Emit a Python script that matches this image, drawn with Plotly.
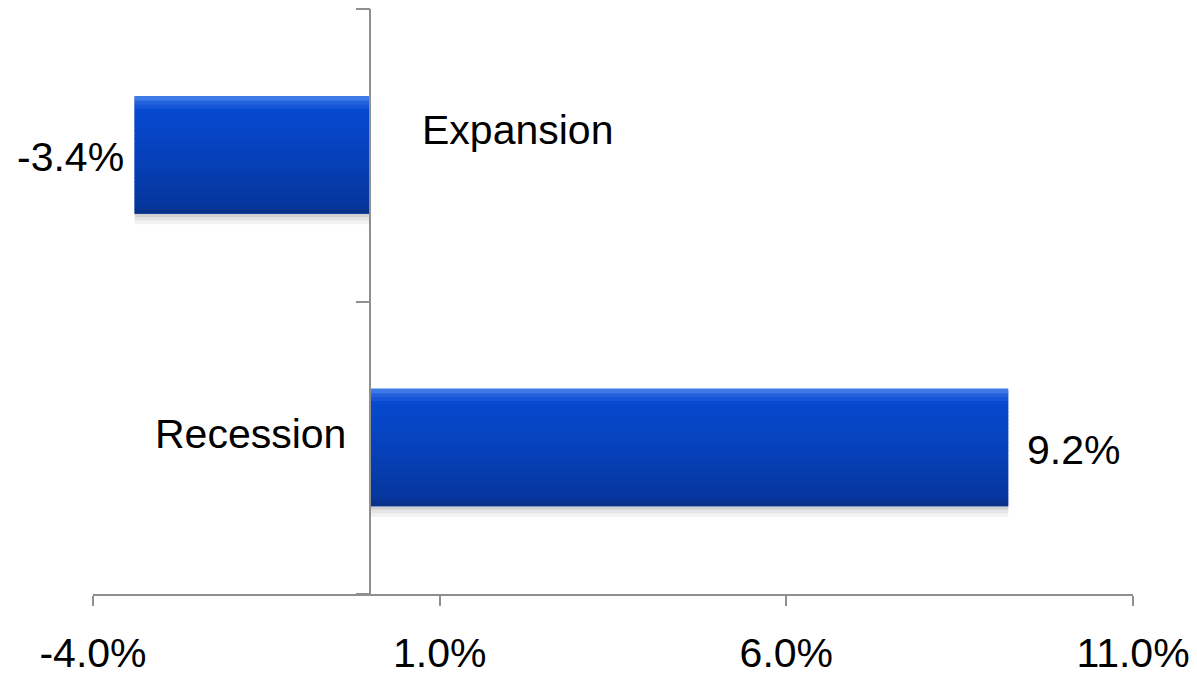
import plotly.graph_objects as go

# Data
categories = ["Expansion", "Recession"]
values = [-3.4, 9.2]
x_ticks = [-4.0, 1.0, 6.0, 11.0]

FONT = "Liberation Sans, Arial, sans-serif"
AXIS_GRAY = "#8f8f8f"

BAR_W = 0.4          # bar thickness in category units
N_STRIPES = 30       # vertical shading steps


def lerp_color(c1, c2, t):
    a = [int(c1[i:i + 2], 16) for i in (1, 3, 5)]
    b = [int(c2[i:i + 2], 16) for i in (1, 3, 5)]
    return "#" + "".join(f"{round(a[k] + (b[k] - a[k]) * t):02x}" for k in range(3))


def stripe_color(t):
    # t = 0 at bottom edge, 1 at top edge
    stops = [(0.0, "#0a2f80"), (0.06, "#06369c"), (0.45, "#0640b8"),
             (0.88, "#0649cf"), (0.95, "#2462dc"), (1.0, "#4a86ea")]
    for (t0, c0), (t1, c1) in zip(stops[:-1], stops[1:]):
        if t0 <= t <= t1:
            return lerp_color(c0, c1, (t - t0) / (t1 - t0))
    return stops[-1][1]


fig = go.Figure()

# soft shadow under the bars
for k, alpha in enumerate([0.18, 0.10, 0.05]):
    fig.add_trace(go.Bar(
        y=categories, x=values, orientation="h",
        width=0.012, offset=-BAR_W / 2 - 0.012 * (k + 1),
        marker=dict(color=f"rgba(0,0,0,{alpha})", line=dict(width=0)),
        hoverinfo="skip", showlegend=False,
    ))

# base bar
fig.add_trace(go.Bar(
    y=categories, x=values, orientation="h",
    width=BAR_W, offset=-BAR_W / 2,
    marker=dict(color="#0642bd", line=dict(width=0)),
    showlegend=False,
))

# vertical shading bands
step = BAR_W / N_STRIPES
for i in range(N_STRIPES):
    t = (i + 0.5) / N_STRIPES
    fig.add_trace(go.Bar(
        y=categories, x=values, orientation="h",
        width=step * 1.2, offset=-BAR_W / 2 + i * step,
        marker=dict(color=stripe_color(t), line=dict(width=0)),
        hoverinfo="skip", showlegend=False,
    ))

# value labels
for cat, v in zip(categories, values):
    fig.add_annotation(
        x=v, y=cat, xref="x", yref="y",
        text=f"{v:.1f}%", showarrow=False,
        xanchor="right" if v < 0 else "left",
        xshift=-9 if v < 0 else 17, yshift=-2,
        font=dict(family=FONT, size=41, color="#000000"),
    )

# category labels beside the zero axis, opposite the bar
label_shift = {"Expansion": (50, 25), "Recession": (-22, 14)}
for cat, v in zip(categories, values):
    dx, dy = label_shift[cat]
    fig.add_annotation(
        x=0, y=cat, xref="x", yref="y",
        text=cat, showarrow=False,
        xanchor="left" if v < 0 else "right",
        xshift=dx, yshift=dy,
        font=dict(family=FONT, size=41, color="#000000"),
    )

x_min, x_max = x_ticks[0], x_ticks[-1]

fig.update_layout(
    width=1197, height=677,
    margin=dict(l=93, r=64, t=9, b=83),
    paper_bgcolor="white", plot_bgcolor="white",
    barmode="overlay",
    font=dict(family=FONT, size=41, color="#000000"),
    xaxis=dict(
        range=[x_min, x_max],
        tickvals=x_ticks,
        ticktext=[f"{t:.1f}%" for t in x_ticks],
        ticks="outside", ticklen=10, tickwidth=1.5, tickcolor=AXIS_GRAY,
        showline=True, linecolor=AXIS_GRAY, linewidth=1.5,
        showgrid=False, zeroline=False, automargin=False,
        tickfont=dict(family=FONT, size=41, color="#000000"),
        ticklabelstandoff=12,
    ),
    yaxis=dict(
        type="category",
        categoryorder="array", categoryarray=["Recession", "Expansion"],
        range=[-0.5, 1.5],
        anchor="free", position=(0 - x_min) / (x_max - x_min),
        tickson="boundaries", automargin=False,
        ticks="outside", ticklen=14, tickwidth=1.5, tickcolor=AXIS_GRAY,
        showline=True, linecolor=AXIS_GRAY, linewidth=1.5,
        showticklabels=False, showgrid=False, zeroline=False,
    ),
)

fig.write_html("out.html")
